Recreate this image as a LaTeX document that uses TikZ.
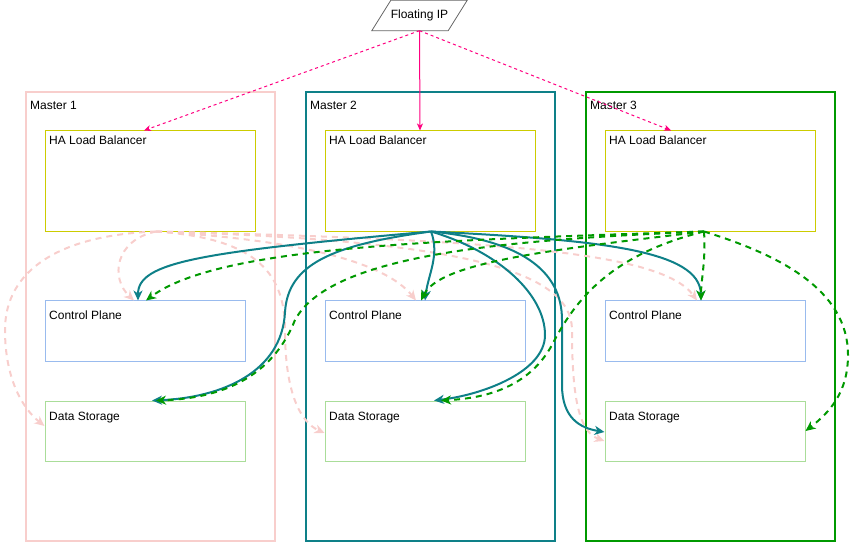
\documentclass[tikz,border=0pt]{standalone}
\usepackage{fontspec}
\setmainfont{Liberation Sans}
\usetikzlibrary{arrows.meta,calc}
\definecolor{pinkc}{HTML}{F8CECC}
\definecolor{tealc}{HTML}{0E8088}
\definecolor{greenc}{HTML}{009900}
\definecolor{yelc}{HTML}{CCCC00}
\definecolor{bluec}{HTML}{99BBEE}
\definecolor{dsc}{HTML}{AADD99}
\definecolor{magc}{HTML}{FF0080}
\definecolor{grayc}{HTML}{666666}
\begin{document}
\begin{tikzpicture}[x=1bp,y=-1bp,font=\fontsize{12bp}{14bp}\selectfont,
 master/.style={draw,line width=2bp,minimum width=249bp,minimum height=449bp,inner sep=0pt,anchor=north west},
 lbbox/.style={draw=yelc,line width=1bp,minimum width=210bp,minimum height=100bp,inner sep=0pt,anchor=north west},
 cpbox/.style={draw=bluec,line width=1bp,minimum width=200bp,minimum height=60bp,inner sep=0pt,anchor=north west},
 dsbox/.style={draw=dsc,line width=1bp,minimum width=200bp,minimum height=60bp,inner sep=0pt,anchor=north west},
 lbl/.style={anchor=base west,inner sep=0pt},
 tip/.style={-{Stealth[length=10bp,width=9bp,inset=3bp]}},
 pinkarr/.style={draw=pinkc,line width=2bp,dash pattern=on 6bp off 5bp,tip},
 tealarr/.style={draw=tealc,line width=2bp,tip},
 greenarr/.style={draw=greenc,line width=2bp,dash pattern=on 6bp off 5bp,tip},
 magarr/.style={draw=magc,line width=1bp,-{Stealth[length=7bp,width=6bp,inset=2bp]}},
 magdash/.style={magarr,dash pattern=on 3bp off 3bp}]
\useasboundingbox (0,0) rectangle (851,542);
% masters
\node[master,draw=pinkc] (m1) at (25,91) {};
\node[master,draw=tealc] (m2) at (305,91) {};
\node[master,draw=greenc] (m3) at (585,91) {};
\node[lbl] (m1t) at (30,109.5) {Master 1};
\node[lbl] (m2t) at (310,109.5) {Master 2};
\node[lbl] (m3t) at (590,109.5) {Master 3};
% boxes
\node[lbbox] (lb1) at (44.5,130.5) {};
\node[lbbox] (lb2) at (324.5,130.5) {};
\node[lbbox] (lb3) at (604.5,130.5) {};
\node[cpbox] (cp1) at (44.5,300.5) {};
\node[cpbox] (cp2) at (324.5,300.5) {};
\node[cpbox] (cp3) at (604.5,300.5) {};
\node[dsbox] (ds1) at (44.5,400.5) {};
\node[dsbox] (ds2) at (324.5,400.5) {};
\node[dsbox] (ds3) at (604.5,400.5) {};
\foreach \i/\x in {1/49,2/329,3/609}{
  \node[lbl] (lb\i t) at (\x,144.5) {HA Load Balancer};
  \node[lbl] (cp\i t) at (\x,320) {Control Plane};
  \node[lbl] (ds\i t) at (\x,420) {Data Storage};
}
% floating IP
\node[minimum width=95bp,minimum height=30bp,inner sep=0pt] (fip) at (419.5,15.5) {Floating IP};
\draw[grayc,line width=0.8bp] (fip.south west) -- ($(fip.north west)+(19,0)$) -- (fip.north east) -- ($(fip.south east)+(-19,0)$) -- cycle;
\draw[magdash] (fip.south) -- ($(lb1.north)+(-6,0)$);
\draw[magarr] (fip.south) -- ($(lb2.north)+(-10,0)$);
\draw[magdash] (fip.south) -- ($(lb3.north)+(-39,0)$);
% sources
\coordinate (s1) at ($(lb1.south)+(6,0)$);
\coordinate (s2) at ($(lb2.south)+(1,0)$);
\coordinate (s3) at ($(lb3.south)+(-6,0)$);
% pink
\draw[pinkarr] (s1) .. controls (115,240) and (110,278) .. ($(cp1.north)+(-11,0)$);
\draw[pinkarr] (s1) .. controls (60,235) and (5,270) .. (5,330) .. controls (5,378) and (22,408) .. ($(ds1.west)+(0,-5)$);
\draw[pinkarr] (s1) .. controls (300,240) and (385,262) .. ($(cp2.north)+(-9,0)$);
\draw[pinkarr] (s1) .. controls (250,238) and (285,268) .. (285,330) .. controls (285,392) and (300,422) .. ($(ds2.west)+(0,2)$);
\draw[pinkarr] (s1) .. controls (500,240) and (662,252) .. ($(cp3.north)+(-8,0)$);
\draw[pinkarr] (s1) .. controls (450,240) and (572,268) .. (572,330) .. controls (572,402) and (580,432) .. ($(ds3.west)+(0,10)$);
% teal
\draw[tealarr] (s2) .. controls (200,252) and (138,262) .. ($(cp1.north)+(-7,0)$);
\draw[tealarr] (s2) .. controls (330,245) and (288,265) .. (285,312) .. controls (282,372) and (222,398) .. ($(ds1.north)+(7,0)$);
\draw[tealarr] (s2) .. controls (440,255) and (428,275) .. (cp2.north);
\draw[tealarr] (s2) .. controls (500,252) and (545,295) .. (545,335) .. controls (545,372) and (482,395) .. ($(ds2.north)+(9,0)$);
\draw[tealarr] (s2) .. controls (600,240) and (700,250) .. ($(cp3.north)+(-4,0)$);
\draw[tealarr] (s2) .. controls (520,240) and (562,270) .. (562,320) -- (562,385) .. controls (562,418) and (580,428) .. ($(ds3.west)+(0,1)$);
% green
\draw[greenarr] (s3) .. controls (450,240) and (220,245) .. ($(cp1.north)+(1,0)$);
\draw[greenarr] (s3) .. controls (500,240) and (330,255) .. (295,320) .. controls (275,370) and (232,398) .. ($(ds1.north)+(11,0)$);
\draw[greenarr] (s3) .. controls (550,250) and (440,262) .. ($(cp2.north)+(-4,0)$);
\draw[greenarr] (s3) .. controls (610,255) and (575,300) .. (552,345) .. controls (530,385) and (490,398) .. ($(ds2.north)+(16,0)$);
\draw[greenarr] (s3) .. controls (706,260) and (701,280) .. ($(cp3.north)+(-4,0)$);
\draw[greenarr] (s3) .. controls (780,255) and (848,290) .. (848,355) .. controls (848,392) and (830,412) .. (ds3.east);
\end{tikzpicture}
\end{document}
